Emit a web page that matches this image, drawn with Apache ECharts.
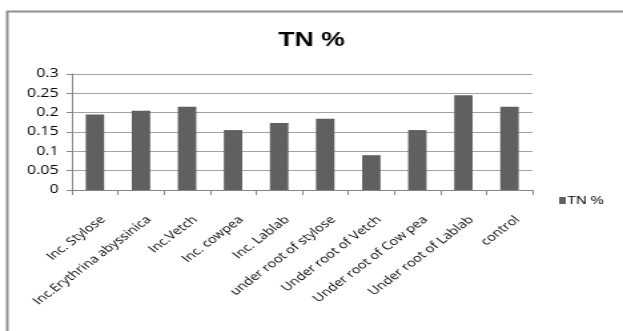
<!DOCTYPE html>
<html>
<head>
<meta charset="utf-8">
<script src="https://cdn.jsdelivr.net/npm/echarts@6/dist/echarts.min.js"></script>
<style>
  html, body { margin: 0; padding: 0; background: #fff; overflow: hidden; }
  /* the chart is laid out narrower and widened horizontally */
  #chart { width: 468px; height: 331px; transform: scaleX(1.3312); transform-origin: 0 0; }
</style>
</head>
<body>
<div id="chart"></div>
<script>
// Total nitrogen (%) per treatment
const categories = [
  'Inc. Stylose',
  'Inc.Erythrina abyssinica',
  'Inc.Vetch',
  'Inc. cowpea',
  'Inc. Lablab',
  'under root of stylose',
  'Under root of Vetch',
  'Under root of Cow pea',
  'Under root of Lablab',
  'control'
];
const tnValues = [0.195, 0.205, 0.215, 0.155, 0.173, 0.184, 0.09, 0.155, 0.245, 0.215];
const seriesName = 'TN %';

const chart = echarts.init(document.getElementById('chart'), null, { renderer: 'canvas' });

chart.setOption({
  animation: false,
  backgroundColor: '#ffffff',
  graphic: [{
    type: 'rect',
    shape: { x: 5.5, y: 11.5, width: 700, height: 400 },
    style: { fill: 'none', stroke: '#8f8f8f', lineWidth: 2 },
    z: 100
  }],
  title: {
    text: seriesName,
    left: 'center',
    top: 30,
    padding: 0,
    textStyle: { fontFamily: 'Liberation Sans, Arial', fontWeight: 'bold', fontSize: 20, color: '#000' }
  },
  legend: {
    data: [seriesName],
    left: 415,
    top: 190,
    itemWidth: 5,
    itemHeight: 7,
    itemGap: 2,
    icon: 'rect',
    textStyle: { fontFamily: 'Liberation Sans, Arial', fontSize: 11, color: '#000', padding: [0, 0, 0, -4] }
  },
  grid: { left: 54, right: 68, top: 74, bottom: 141, containLabel: false },
  xAxis: {
    type: 'category',
    data: categories,
    axisLine: { lineStyle: { color: '#868686', width: 1 } },
    axisTick: { show: true, length: 5, lineStyle: { color: '#868686' } },
    axisLabel: {
      rotate: 45,
      interval: 0,
      margin: 22,
      verticalAlign: 'top',
      padding: [3, 0, 0, 0],
      fontFamily: 'Open Sans',
      fontSize: 11,
      color: '#000'
    }
  },
  yAxis: {
    type: 'value',
    min: 0,
    max: 0.3,
    interval: 0.05,
    axisLine: { show: true, lineStyle: { color: '#868686', width: 1 } },
    axisTick: { show: true, length: 4, lineStyle: { color: '#868686' } },
    splitLine: { lineStyle: { color: '#a3a3a3', width: 1 } },
    axisLabel: {
      margin: 10,
      fontFamily: 'Open Sans',
      fontSize: 12,
      color: '#000',
      formatter: v => String(parseFloat(v.toFixed(2)))
    }
  },
  series: [{
    name: seriesName,
    type: 'bar',
    data: tnValues,
    barWidth: '40%',
    itemStyle: { color: '#606060' }
  }]
});
</script>
</body>
</html>
